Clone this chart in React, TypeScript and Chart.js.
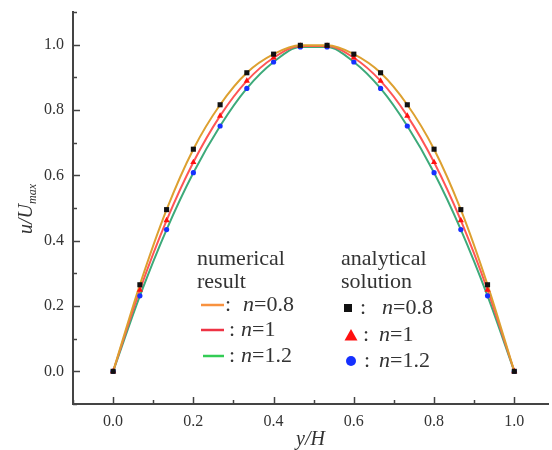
import React, { useEffect, useRef } from 'react';
import { Chart, registerables } from 'chart.js';

Chart.register(...registerables);

// y/H positions of the points
const yH = [0, 0.0667, 0.1333, 0.2, 0.2667, 0.3333, 0.4, 0.4667, 0.5333, 0.6, 0.6667, 0.7333, 0.8, 0.8667, 0.9333, 1.0];
// u/Umax, n = 0.8
const uN08 = [0, 0.265, 0.495, 0.68, 0.816, 0.914, 0.971, 0.998, 0.998, 0.971, 0.914, 0.816, 0.68, 0.495, 0.265, 0];
// u/Umax, n = 1
const uN1 = [0, 0.249, 0.462, 0.64, 0.782, 0.889, 0.96, 0.996, 0.996, 0.96, 0.889, 0.782, 0.64, 0.462, 0.249, 0];
// u/Umax, n = 1.2
const uN12 = [0, 0.231, 0.434, 0.608, 0.751, 0.866, 0.947, 0.993, 0.993, 0.947, 0.866, 0.751, 0.608, 0.434, 0.231, 0];

const majorTicks = [0, 0.2, 0.4, 0.6, 0.8, 1.0];
const xTickLabels = ['0.0', '0.2', '0.4', '0.6', '0.8', '1.0'];
const yTickLabels = ['0.0', '0.2', '0.4', '0.6', '0.8', '1.0'];

const SERIF = '"Liberation Serif", "Times New Roman", serif';
const TEXT = '#333333';

function majorIndex(v: number): number {
  return majorTicks.findIndex((m) => Math.abs(m - v) < 1e-6);
}

function pts(ys: number[]) {
  return yH.map((x, i) => ({ x, y: ys[i] }));
}

function drawRich(ctx: CanvasRenderingContext2D, x: number, y: number, parts: [string, boolean, number][]) {
  let cx = x;
  for (const [s, it, size] of parts) {
    ctx.font = `${it ? 'italic ' : ''}${size}px ${SERIF}`;
    ctx.fillText(s, cx, y);
    cx += ctx.measureText(s).width;
  }
}

const decorPlugin = {
  id: 'decor',
  afterDraw(chart: any) {
    const ctx: CanvasRenderingContext2D = chart.ctx;
    const { left, bottom } = chart.chartArea;
    const xs = chart.scales.x;
    const ys = chart.scales.y;
    ctx.save();
    // inward tick marks
    ctx.strokeStyle = '#444';
    ctx.lineWidth = 1.5;
    xs.ticks.forEach((t: any) => {
      const px = Math.round(xs.getPixelForValue(t.value)) + 0.5;
      const len = majorIndex(t.value) >= 0 ? 7 : 4;
      ctx.beginPath();
      ctx.moveTo(px, bottom);
      ctx.lineTo(px, bottom - len);
      ctx.stroke();
    });
    ys.ticks.forEach((t: any) => {
      const py = Math.round(ys.getPixelForValue(t.value)) + 0.5;
      const len = majorIndex(t.value) >= 0 ? 7 : 4;
      ctx.beginPath();
      ctx.moveTo(left, py);
      ctx.lineTo(left + len, py);
      ctx.stroke();
    });

    ctx.fillStyle = TEXT;
    ctx.textBaseline = 'middle';
    // x title
    ctx.font = `italic 20px ${SERIF}`;
    ctx.textAlign = 'center';
    ctx.fillText('y/H', (chart.chartArea.left + chart.chartArea.right) / 2, 440);
    // y title
    ctx.save();
    ctx.translate(27, 209);
    ctx.rotate(-Math.PI / 2);
    ctx.textAlign = 'left';
    ctx.font = `italic 20px ${SERIF}`;
    const w1 = ctx.measureText('u/U').width;
    ctx.font = `italic 12px ${SERIF}`;
    const w2 = ctx.measureText('max').width;
    const sx = -(w1 + w2) / 2;
    ctx.font = `italic 20px ${SERIF}`;
    ctx.fillText('u/U', sx, 0);
    ctx.font = `italic 12px ${SERIF}`;
    ctx.fillText('max', sx + w1, 6);
    ctx.restore();

    // legend
    ctx.textAlign = 'left';
    ctx.font = `22px ${SERIF}`;
    ctx.fillText('numerical', 197, 259);
    ctx.fillText('result', 197, 282);
    ctx.fillText('analytical', 341, 259);
    ctx.fillText('solution', 341, 282);

    const lineRows: [string, number, string, number, number][] = [
      ['#F8923F', 305, '=0.8', 225, 243],
      ['#EE3344', 330, '=1', 229, 241],
      ['#33CC55', 356, '=1.2', 229, 241],
    ];
    lineRows.forEach(([col, y, lab, cx, nx], i) => {
      ctx.strokeStyle = col;
      ctx.lineWidth = 2.5;
      ctx.beginPath();
      ctx.moveTo(i === 2 ? 203 : 201, y);
      ctx.lineTo(224, y);
      ctx.stroke();
      ctx.fillStyle = TEXT;
      drawRich(ctx, cx, y, [[':', false, 22]]);
      drawRich(ctx, nx, y, [['n', true, 22], [lab, false, 22]]);
    });

    // analytical markers
    ctx.fillStyle = '#111';
    ctx.fillRect(344, 304, 8, 8);
    ctx.fillStyle = '#FF1010';
    ctx.beginPath();
    ctx.moveTo(351, 329);
    ctx.lineTo(357.5, 340.5);
    ctx.lineTo(344.5, 340.5);
    ctx.closePath();
    ctx.fill();
    ctx.fillStyle = '#1530FF';
    ctx.beginPath();
    ctx.arc(351, 361, 5, 0, Math.PI * 2);
    ctx.fill();

    ctx.fillStyle = TEXT;
    const ptRows: [number, string, number, number][] = [
      [308, '=0.8', 360, 382],
      [335, '=1', 363, 379],
      [361, '=1.2', 364, 379],
    ];
    ptRows.forEach(([y, lab, cx, nx]) => {
      drawRich(ctx, cx, y, [[':', false, 22]]);
      drawRich(ctx, nx, y, [['n', true, 22], [lab, false, 22]]);
    });
    ctx.restore();
  },
};

export default function App() {
  const canvasRef = useRef<HTMLCanvasElement | null>(null);

  useEffect(() => {
    const canvas = canvasRef.current;
    if (!canvas) return;
    const chart = new Chart(canvas, {
      type: 'scatter',
      data: {
        datasets: [
          {
            label: 'analytical n=0.8',
            data: pts(uN08),
            showLine: false,
            pointStyle: 'rect',
            pointRadius: 3.6,
            backgroundColor: '#111',
            borderColor: '#111',
            borderWidth: 0,
          },
          {
            label: 'analytical n=1',
            data: pts(uN1),
            showLine: false,
            pointStyle: 'triangle',
            pointRadius: 3.6,
            backgroundColor: '#FF1010',
            borderColor: '#FF1010',
            borderWidth: 0,
          },
          {
            label: 'analytical n=1.2',
            data: pts(uN12),
            showLine: false,
            pointStyle: 'circle',
            pointRadius: 2.6,
            backgroundColor: '#1530FF',
            borderColor: '#1530FF',
            borderWidth: 0,
          },
          {
            label: 'numerical n=0.8',
            data: pts(uN08),
            showLine: true,
            pointRadius: 0,
            borderColor: '#DDA030',
            borderWidth: 2,
            cubicInterpolationMode: 'monotone',
          },
          {
            label: 'numerical n=1',
            data: pts(uN1),
            showLine: true,
            pointRadius: 0,
            borderColor: '#FF5555',
            borderWidth: 2,
            cubicInterpolationMode: 'monotone',
          },
          {
            label: 'numerical n=1.2',
            data: pts(uN12),
            showLine: true,
            pointRadius: 0,
            borderColor: '#3DAA7A',
            borderWidth: 2,
            cubicInterpolationMode: 'monotone',
          },
        ],
      },
      options: {
        animation: false,
        responsive: false,
        devicePixelRatio: 1,
        layout: { padding: { top: 12, right: 0, left: 0, bottom: 0 } },
        plugins: {
          legend: { display: false },
          tooltip: { enabled: false },
        },
        scales: {
          x: {
            type: 'linear',
            min: -0.1,
            max: 1.084,
            afterFit: (s: any) => {
              s.height = 46;
              s.paddingLeft = 0;
              s.paddingRight = 0;
            },
            grid: { drawOnChartArea: false, drawTicks: false, color: 'rgba(0,0,0,0)' },
            border: { display: true, color: '#444', width: 2 },
            ticks: {
              stepSize: 0.1,
              includeBounds: false,
              padding: 8,
              autoSkip: false,
              maxRotation: 0,
              color: TEXT,
              font: { family: SERIF, size: 16 },
              callback: (v: any) => {
                const i = majorIndex(Number(v));
                return i >= 0 ? xTickLabels[i] : '';
              },
            },
          },
          y: {
            type: 'linear',
            min: -0.1,
            max: 1.1,
            afterFit: (s: any) => {
              s.width = 73;
              s.paddingTop = 0;
              s.paddingBottom = 0;
            },
            grid: { drawOnChartArea: false, drawTicks: false, color: 'rgba(0,0,0,0)' },
            border: { display: true, color: '#444', width: 2 },
            ticks: {
              stepSize: 0.1,
              includeBounds: false,
              padding: 9,
              autoSkip: false,
              color: TEXT,
              font: { family: SERIF, size: 16 },
              callback: (v: any) => {
                const i = majorIndex(Number(v));
                return i >= 0 ? yTickLabels[i] : '';
              },
            },
          },
        },
      },
      plugins: [decorPlugin],
    } as any);
    return () => {
      chart.destroy();
    };
  }, []);

  return (
    <div style={{ position: 'absolute', left: 0, top: 0, width: 552, height: 450, background: '#fff' }}>
      <canvas ref={canvasRef} width={552} height={450} style={{ display: 'block', width: 552, height: 450 }} />
    </div>
  );
}
